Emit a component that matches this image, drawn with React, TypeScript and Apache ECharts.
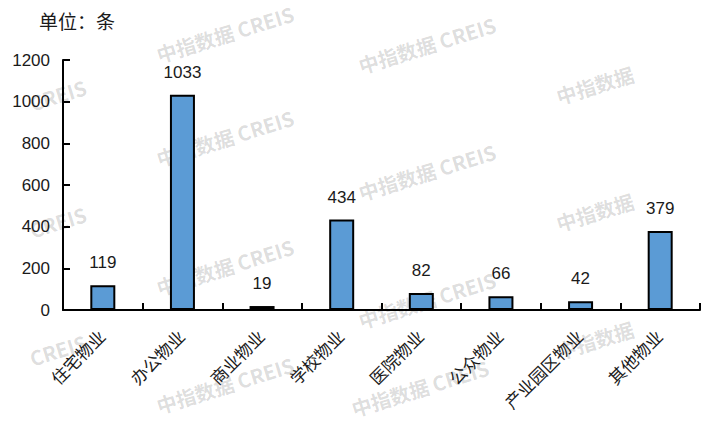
import React, { useEffect, useRef } from "react";
import * as echarts from "echarts";

const categories = ["住宅物业", "办公物业", "商业物业", "学校物业", "医院物业", "公众物业", "产业园区物业", "其他物业"];
const values = [119, 1033, 19, 434, 82, 66, 42, 379];
const yTicks = { min: 0, max: 1200, interval: 200 };
const unitLabel = "单位：条";
const watermarkFull = "中指数据 CREIS";
const watermarkCn = "中指数据";
const watermarkEn = "CREIS";

const FONT = "'Liberation Sans', 'Noto Sans CJK SC', sans-serif";

export default function App() {
  const ref = useRef<HTMLDivElement>(null);
  useEffect(() => {
    if (!ref.current) return;
    const chart = echarts.init(ref.current, null, { renderer: "svg" });
    const marks: [number, number, string][] = [
      [225, 34, watermarkFull],
      [427, 45, watermarkFull],
      [595, 85, watermarkCn],
      [225, 138, watermarkFull],
      [427, 172, watermarkFull],
      [595, 212, watermarkCn],
      [225, 267, watermarkFull],
      [427, 300, watermarkFull],
      [595, 340, watermarkCn],
      [225, 385, watermarkFull],
      [420, 388, watermarkFull],
      [58, 95, watermarkEn],
      [58, 222, watermarkEn],
      [58, 350, watermarkEn],
    ];
    const wm = marks.map(([x, y, t]) => ({
      type: "text",
      x,
      y,
      rotation: 0.3,
      z: 0,
      silent: true,
      style: {
        text: t,
        fill: "rgba(0,0,0,0.14)",
        font: "bold 20px 'Noto Sans CJK SC', sans-serif",
        align: "center",
        verticalAlign: "middle",
      },
    }));
    chart.setOption({
      animation: false,
      title: {
        text: unitLabel,
        left: 34,
        top: 8,
        textStyle: { fontSize: 19, fontWeight: "normal", color: "#1a1a1a", fontFamily: FONT },
      },
      grid: { left: 63, right: 11, top: 60, bottom: 114 },
      xAxis: {
        type: "category",
        data: categories,
        axisLine: { lineStyle: { color: "#000", width: 2 } },
        axisTick: { show: true, inside: true, length: 7, lineStyle: { color: "#000", width: 2 } },
        axisLabel: { rotate: 45, fontSize: 17, color: "#1a1a1a", margin: 24, fontFamily: FONT, interval: 0 },
      },
      yAxis: {
        type: "value",
        min: yTicks.min,
        max: yTicks.max,
        interval: yTicks.interval,
        axisLine: { show: true, lineStyle: { color: "#000", width: 2 } },
        axisTick: { show: true, inside: true, length: 7, lineStyle: { color: "#000", width: 2 } },
        splitLine: { show: false },
        axisLabel: { fontSize: 17, color: "#1a1a1a", margin: 13, fontFamily: FONT, formatter: (v: number) => String(v) },
      },
      series: [
        {
          type: "bar",
          data: values,
          barWidth: 25,
          z: 5,
          itemStyle: { color: "#5B9BD5", borderColor: "#000", borderWidth: 2 },
          label: { show: true, position: "top", distance: 14, fontSize: 17, color: "#1a1a1a", fontFamily: FONT },
        },
      ],
      graphic: wm,
    });
    return () => chart.dispose();
  }, []);
  return <div ref={ref} style={{ width: 711, height: 424, position: "absolute", left: 0, top: 0 }} />;
}
